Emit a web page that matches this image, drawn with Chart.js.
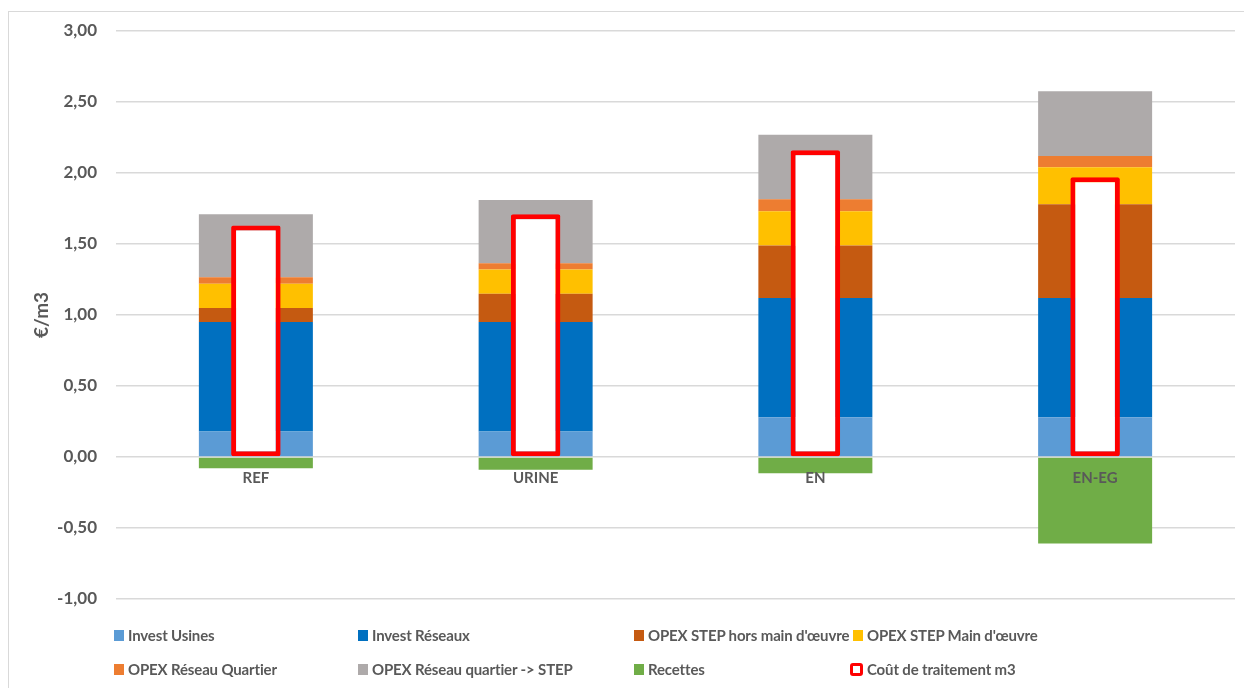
<!DOCTYPE html>
<html>
<head>
<meta charset="utf-8">
<script src="https://cdn.jsdelivr.net/npm/chart.js@4.4.1/dist/chart.umd.min.js"></script>
<style>
  html, body { margin: 0; padding: 0; background: #fff; overflow: hidden; }
  #wrap { position: relative; width: 1244px; height: 688px; }
  #frame { position: absolute; left: 8px; top: 11px; width: 1260px; height: 700px;
           border: 1px solid #d9d9d9; box-sizing: border-box; }
  #chart { position: absolute; left: 0; top: 0; }
  .lg { position: absolute; display: flex; align-items: center; height: 20px;
        font: bold 15px Lato, "Open Sans", sans-serif; letter-spacing: -0.15px;
        color: #595959; white-space: nowrap; }
  .lg .sw { width: 10px; height: 11px; margin-right: 4px; flex: none; }
  .lg .sw.outline { width: 13px; height: 13px; box-sizing: border-box; border: 3px solid #ff0000;
                    border-radius: 3px; background: #fff; margin-left: -3px; margin-right: 4px; }
</style>
</head>
<body>
<div id="wrap">
  <div id="frame"></div>
  <canvas id="chart" width="1244" height="688"></canvas>
  <div id="legend"></div>
</div>
<script>
// Scenarios and cost components, in €/m3
const categories = ['REF', 'URINE', 'EN', 'EN-EG'];
const investUsines       = [0.18, 0.18, 0.28, 0.28];
const investReseaux      = [0.77, 0.77, 0.84, 0.84];
const opexStepHorsMO     = [0.10, 0.20, 0.37, 0.66];
const opexStepMO         = [0.17, 0.17, 0.24, 0.26];
const opexReseauQuartier = [0.045, 0.045, 0.085, 0.08];
const opexQuartierStep   = [0.445, 0.445, 0.455, 0.455];
const recettes           = [-0.08, -0.09, -0.115, -0.61];
const coutTraitement     = [1.63, 1.71, 2.16, 1.97];

const yMin = -1, yMax = 3, yStep = 0.5;

const stackedSeries = [
  { label: 'Invest Usines',                data: investUsines,       color: '#5b9bd5' },
  { label: 'Invest Réseaux',               data: investReseaux,      color: '#0070c0' },
  { label: "OPEX STEP hors main d'œuvre",  data: opexStepHorsMO,     color: '#c55a11' },
  { label: "OPEX STEP Main d'œuvre",       data: opexStepMO,         color: '#ffc000' },
  { label: 'OPEX Réseau Quartier',         data: opexReseauQuartier, color: '#ed7d31' },
  { label: 'OPEX Réseau quartier -> STEP', data: opexQuartierStep,   color: '#aeaaaa' },
  { label: 'Recettes',                     data: recettes,           color: '#70ad47' }
];
const costLabel = 'Coût de traitement m3';

const textGrey = '#595959';
const fontFamily = 'Lato, "Open Sans", sans-serif';

// Components share one stack; every bar is centred on its category
const datasets = stackedSeries.map(s => ({
  label: s.label,
  data: s.data,
  backgroundColor: s.color,
  borderWidth: 0,
  stack: 'components',
  grouped: false,
  categoryPercentage: 1,
  barPercentage: 0.4075
}));

// Total treatment cost, drawn as an outlined bar over each stack
datasets.push({
  label: costLabel,
  data: coutTraitement,
  backgroundColor: '#ffffff',
  borderColor: '#ff0000',
  borderWidth: 5,
  borderSkipped: false,
  borderRadius: 2,
  stack: 'cost',
  grouped: false,
  categoryPercentage: 1,
  barPercentage: 0.177,
  order: -1
});

new Chart(document.getElementById('chart'), {
  type: 'bar',
  data: { labels: categories, datasets },
  options: {
    responsive: false,
    animation: false,
    layout: { padding: { left: 8, top: 31, right: 9, bottom: 89 } },
    plugins: { legend: { display: false }, tooltip: { enabled: false } },
    scales: {
      x: {
        type: 'category',
        axis: 'x',
        position: { y: 0 },
        stacked: true,
        offset: true,
        grid: { display: false, drawTicks: false },
        border: { display: false },
        ticks: { color: textGrey, padding: 12, maxRotation: 0, z: 1,
                 font: { family: fontFamily, size: 15, weight: 'bold' } },
        afterFit: (axis) => { axis.height = 0; }
      },
      y: {
        stacked: true,
        min: yMin,
        max: yMax,
        ticks: {
          stepSize: yStep,
          color: textGrey,
          padding: 19,
          font: { family: fontFamily, size: 17, weight: 'bold' },
          callback: (v) => v.toFixed(2).replace('.', ',')
        },
        grid: { color: '#d9d9d9', lineWidth: 1.5, drawTicks: false },
        border: { display: false },
        title: {
          display: true,
          text: '€/m3',
          color: textGrey,
          font: { family: fontFamily, size: 19, weight: 'bold' },
          padding: { top: 22, bottom: 0 }
        },
        afterFit: (axis) => { axis.width = 108; }
      }
    }
  }
});

// Legend laid out on a fixed grid of four columns
const legendCols = [114, 358, 634, 853];
const legendRows = [625, 659];
const legendItems = stackedSeries.map(s => ({ label: s.label, color: s.color }))
  .concat([{ label: costLabel, outline: true }]);
const legendEl = document.getElementById('legend');
legendItems.forEach((item, i) => {
  const div = document.createElement('div');
  div.className = 'lg';
  div.style.left = legendCols[i % 4] + 'px';
  div.style.top = legendRows[Math.floor(i / 4)] + 'px';
  const sw = document.createElement('span');
  sw.className = 'sw' + (item.outline ? ' outline' : '');
  if (!item.outline) sw.style.background = item.color;
  const tx = document.createElement('span');
  tx.textContent = item.label;
  div.appendChild(sw);
  div.appendChild(tx);
  legendEl.appendChild(div);
});
</script>
</body>
</html>
